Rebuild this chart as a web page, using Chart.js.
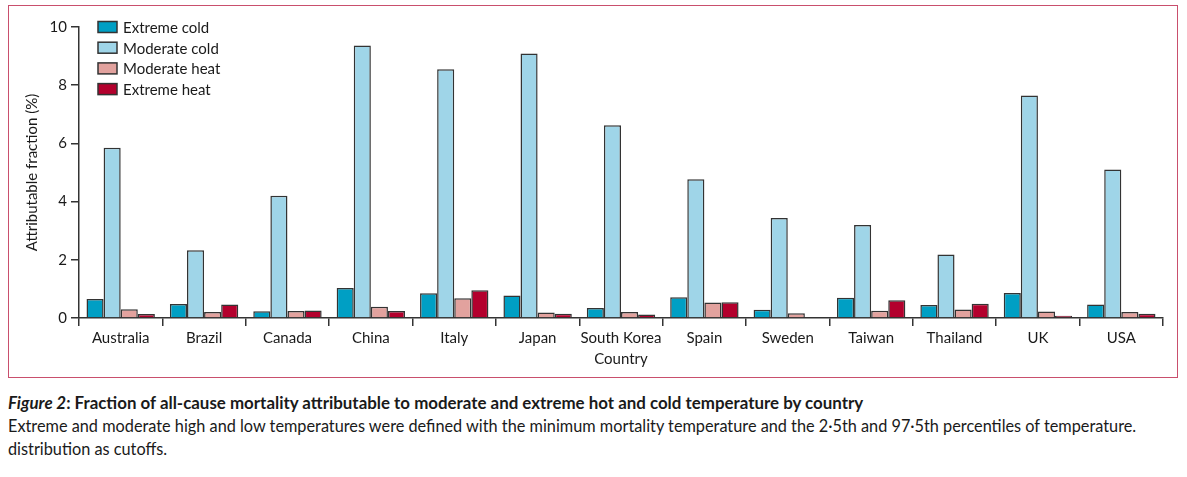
<!DOCTYPE html>
<html>
<head>
<meta charset="utf-8">
<script src="https://cdn.jsdelivr.net/npm/chart.js@4"></script>
<style>
  html, body { margin: 0; padding: 0; background: #fff; }
  body { width: 1187px; height: 477px; position: relative; overflow: hidden; font-family: Lato, "Liberation Sans", sans-serif; color: #1a1a1a; }
  #frame { position: absolute; left: 8px; top: 5px; width: 1168px; height: 371px; border: 1.5px solid #c94f6d; }
  #wrap { position: absolute; left: 0; top: 0; width: 1187px; height: 380px; }
  #caption { position: absolute; left: 8px; top: 391px; font-size: 16.3px; line-height: 23px; }
  #caption b { font-weight: 700; font-size: 16.9px; }
</style>
</head>
<body>
<div id="frame"></div>
<div id="wrap"><canvas id="chart"></canvas></div>
<div id="caption">
  <b><i>Figure 2</i>: Fraction of all-cause mortality attributable to moderate and extreme hot and cold temperature by country</b><br>
  Extreme and moderate high and low temperatures were defined with the minimum mortality temperature and the 2·5th and 97·5th percentiles of temperature.<br>
  distribution as cutoffs.
</div>
<script>
const countries = ['Australia', 'Brazil', 'Canada', 'China', 'Italy', 'Japan', 'South Korea', 'Spain', 'Sweden', 'Taiwan', 'Thailand', 'UK', 'USA'];
const extremeCold = [0.65, 0.48, 0.23, 1.03, 0.85, 0.77, 0.34, 0.71, 0.28, 0.70, 0.45, 0.86, 0.46];
const moderateCold = [5.85, 2.33, 4.2, 9.36, 8.55, 9.09, 6.62, 4.77, 3.44, 3.2, 2.18, 7.65, 5.1];
const moderateHeat = [0.3, 0.21, 0.24, 0.39, 0.68, 0.19, 0.21, 0.53, 0.16, 0.25, 0.29, 0.22, 0.21];
const extremeHeat = [0.14, 0.46, 0.26, 0.24, 0.95, 0.15, 0.12, 0.54, 0.03, 0.61, 0.49, 0.08, 0.15];
const yTicks = [0, 2, 4, 6, 8, 10];

const font = 'Lato, "Liberation Sans", sans-serif';
const textColor = '#1a1a1a';
const lineColor = '#333';

// legend drawn inside the plot, top-left
const legendInside = {
  id: 'legendInside',
  afterDraw(chart) {
    const ctx = chart.ctx;
    ctx.save();
    ctx.font = '15px ' + font;
    ctx.textBaseline = 'middle';
    chart.data.datasets.forEach((ds, i) => {
      const y = 27 + i * 20.7;
      ctx.fillStyle = ds.backgroundColor;
      ctx.fillRect(98, y - 5.5, 19, 11);
      ctx.strokeStyle = lineColor;
      ctx.lineWidth = 1.5;
      ctx.strokeRect(98, y - 5.5, 19, 11);
      ctx.fillStyle = textColor;
      ctx.fillText(ds.label, 123, y + 1);
    });
    ctx.restore();
  }
};

const mkSet = (label, data, color) => ({
  label, data,
  backgroundColor: color,
  borderColor: lineColor,
  borderWidth: 1.5,
  categoryPercentage: 0.82,
  barPercentage: 1
});

new Chart(document.getElementById('chart'), {
  type: 'bar',
  data: {
    labels: countries,
    datasets: [
      mkSet('Extreme cold', extremeCold, '#009fc4'),
      mkSet('Moderate cold', moderateCold, '#9fd5e8'),
      mkSet('Moderate heat', moderateHeat, '#e2a29e'),
      mkSet('Extreme heat', extremeHeat, '#b3002d')
    ]
  },
  options: {
    responsive: true,
    maintainAspectRatio: false,
    animation: false,
    layout: { padding: { left: 0, top: 27, right: 24, bottom: 0 } },
    plugins: {
      legend: { display: false },
      tooltip: { enabled: false }
    },
    scales: {
      x: {
        afterFit: s => { s.height = 62; },
        grid: { offset: true, drawOnChartArea: false, drawTicks: true, tickLength: 8, color: lineColor, lineWidth: 1.5 },
        border: { display: true, color: lineColor, width: 1.5 },
        ticks: { color: textColor, font: { family: font, size: 15 }, padding: 3, maxRotation: 0, autoSkip: false },
        title: { display: true, text: 'Country', color: textColor, font: { family: font, size: 15 }, padding: { top: 0, bottom: 12 } }
      },
      y: {
        min: 0,
        max: 10,
        afterFit: s => { s.width = 79; },
        afterBuildTicks: s => { s.ticks = yTicks.map(v => ({ value: v })); },
        grid: { drawOnChartArea: false, drawTicks: true, tickLength: 8, color: lineColor, lineWidth: 1.5 },
        border: { display: true, color: lineColor, width: 1.5 },
        ticks: { color: textColor, font: { family: font, size: 15 }, padding: 4 },
        title: { display: true, text: 'Attributable fraction (%)', color: textColor, font: { family: font, size: 15 }, padding: { top: 23, bottom: 0 } }
      }
    }
  },
  plugins: [legendInside]
});
</script>
</body>
</html>
